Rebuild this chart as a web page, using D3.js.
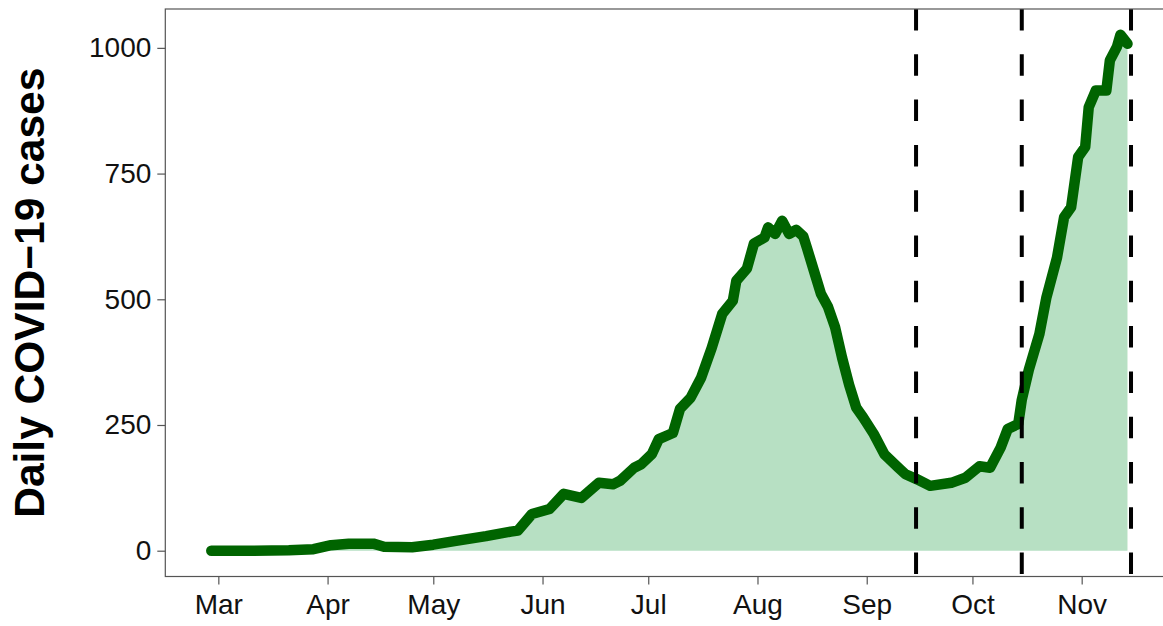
<!DOCTYPE html>
<html>
<head>
<meta charset="utf-8">
<script src="https://cdn.jsdelivr.net/npm/d3@7"></script>
<style>
  body { margin: 0; background: #fff; }
  svg { display: block; font-family: "Liberation Sans", Arial, sans-serif; }
</style>
</head>
<body>
<svg id="chart"></svg>
<script>
// daily cases
const dates = [
  "2020-02-28", "2020-03-10", "2020-03-21", "2020-03-28", "2020-04-02", "2020-04-07",
  "2020-04-14", "2020-04-17", "2020-04-25", "2020-05-01", "2020-05-07", "2020-05-16",
  "2020-05-23", "2020-05-25", "2020-05-29", "2020-06-03", "2020-06-07", "2020-06-12",
  "2020-06-17", "2020-06-21", "2020-06-23", "2020-06-27", "2020-06-29", "2020-07-02",
  "2020-07-04", "2020-07-08", "2020-07-10", "2020-07-13", "2020-07-16", "2020-07-19",
  "2020-07-22", "2020-07-25", "2020-07-26", "2020-07-29", "2020-07-31", "2020-08-03",
  "2020-08-04", "2020-08-06", "2020-08-08", "2020-08-10", "2020-08-12", "2020-08-14",
  "2020-08-15", "2020-08-17", "2020-08-19", "2020-08-21", "2020-08-23", "2020-08-25",
  "2020-08-27", "2020-08-29", "2020-08-31", "2020-09-03", "2020-09-06", "2020-09-10",
  "2020-09-12", "2020-09-15", "2020-09-19", "2020-09-25", "2020-09-29", "2020-10-03",
  "2020-10-06", "2020-10-09", "2020-10-11", "2020-10-14", "2020-10-15", "2020-10-17",
  "2020-10-20", "2020-10-22", "2020-10-25", "2020-10-27", "2020-10-29", "2020-10-31",
  "2020-11-02", "2020-11-03", "2020-11-05", "2020-11-08", "2020-11-09", "2020-11-11",
  "2020-11-12", "2020-11-14"
];
const cases = [
  0, 0, 1, 3, 11, 14,
  14, 8, 7, 12, 19, 29,
  38, 40, 73, 83, 113, 105,
  135, 132, 139, 165, 172, 192,
  222, 234, 282, 304, 344, 403,
  471, 497, 537, 561, 611, 623,
  643, 630, 656, 630, 638, 625,
  603, 557, 511, 485, 445, 384,
  330, 285, 265, 232, 192, 165,
  152, 143, 129, 135, 145, 168,
  165, 205, 242, 252, 300, 360,
  431, 504, 583, 663, 683, 783,
  803, 882, 915, 915, 975, 1002,
  1026, 1008
];
const markDates = ["2020-09-15", "2020-10-15", "2020-11-15"];
const monthTicks = ["2020-03-01", "2020-04-01", "2020-05-01", "2020-06-01", "2020-07-01",
  "2020-08-01", "2020-09-01", "2020-10-01", "2020-11-01"];
const yTicks = [0, 250, 500, 750, 1000];
const yTitle = "Daily COVID\u221219 cases";

const width = 1163, height = 626;
const parse = d3.utcParse("%Y-%m-%d");
const data = dates.map((d, i) => ({ date: parse(d), value: cases[i] }));

const svg = d3.select("#chart").attr("width", width).attr("height", height);

// panel edges (right edge runs past the picture like in the original)
const panelLeft = 165.3, panelRight = 1177, panelTop = 9, panelBottom = 576.5;

// ggplot style 5% expansion
const xExt = [data[0].date, parse(markDates[2])];
const xPad = (xExt[1] - xExt[0]) * 0.05;
const x = d3.scaleUtc()
  .domain([new Date(+xExt[0] - xPad), new Date(+xExt[1] + xPad)])
  .range([panelLeft, panelRight]);

const yMax = d3.max(cases);
const y = d3.scaleLinear()
  .domain([-yMax * 0.05, yMax * 1.05])
  .range([panelBottom, panelTop]);

const area = d3.area()
  .x(d => x(d.date))
  .y0(y(0))
  .y1(d => y(d.value));

const line = d3.line()
  .x(d => x(d.date))
  .y(d => y(d.value));

svg.append("path")
  .datum(data)
  .attr("d", area)
  .attr("fill", "#b7e0c3");

svg.append("path")
  .datum(data)
  .attr("d", line)
  .attr("fill", "none")
  .attr("stroke", "#006400")
  .attr("stroke-width", 10.5)
  .attr("stroke-linejoin", "round")
  .attr("stroke-linecap", "round");

svg.append("g")
  .selectAll("line")
  .data(markDates.map(parse))
  .join("line")
  .attr("x1", d => x(d))
  .attr("x2", d => x(d))
  .attr("y1", panelTop)
  .attr("y2", panelBottom)
  .attr("stroke", "#000")
  .attr("stroke-width", 4)
  .attr("stroke-dasharray", "21.5 23.8");

// panel border
svg.append("rect")
  .attr("x", panelLeft)
  .attr("y", panelTop)
  .attr("width", panelRight - panelLeft)
  .attr("height", panelBottom - panelTop)
  .attr("fill", "none")
  .attr("stroke", "#555")
  .attr("stroke-width", 1.2);

const xAxis = svg.append("g")
  .attr("transform", `translate(0,${panelBottom})`)
  .call(d3.axisBottom(x)
    .tickValues(monthTicks.map(parse))
    .tickFormat(d3.utcFormat("%b"))
    .tickSize(8)
    .tickPadding(10));

const yAxis = svg.append("g")
  .attr("transform", `translate(${panelLeft},0)`)
  .call(d3.axisLeft(y)
    .tickValues(yTicks)
    .tickFormat(d3.format("d"))
    .tickSize(8)
    .tickPadding(6));

[xAxis, yAxis].forEach(g => {
  g.select(".domain").remove();
  g.selectAll(".tick line").attr("stroke", "#555").attr("stroke-width", 1.2);
  g.selectAll(".tick text")
    .attr("fill", "#111")
    .style("font-size", "28px")
    .style("font-family", "Liberation Sans, Arial, sans-serif");
});

svg.append("text")
  .attr("transform", `translate(44,${(panelTop + panelBottom) / 2}) rotate(-90)`)
  .attr("text-anchor", "middle")
  .style("font-size", "42.5px")
  .style("font-weight", "bold")
  .attr("fill", "#000")
  .text(yTitle);
</script>
</body>
</html>
